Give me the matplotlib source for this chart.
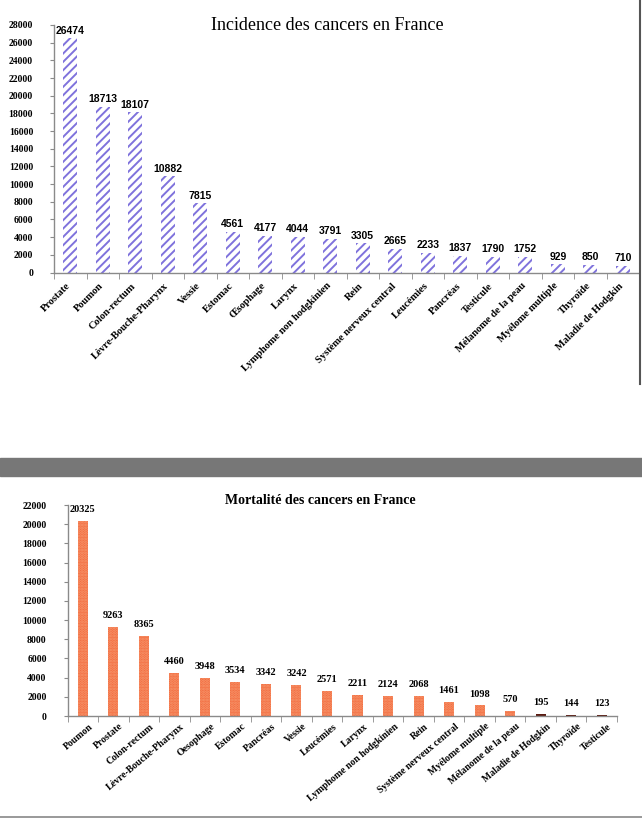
import matplotlib.pyplot as plt
import matplotlib.patches as mpatches
from matplotlib.lines import Line2D
import matplotlib.transforms as mtransforms

plt.rcParams["hatch.linewidth"] = 1.4

SERIF = "Liberation Serif"
SANS = "Liberation Sans"

inc_labels = ["Prostate", "Poumon", "Colon-rectum", "Lèvre-Bouche-Pharynx", "Vessie",
              "Estomac", "Œsophage", "Larynx", "Lymphome non hodgkinien", "Rein",
              "Système nerveux central", "Leucémies", "Pancréas", "Testicule",
              "Mélanome de la peau", "Myélome multiple", "Thyroïde", "Maladie de Hodgkin"]
inc_values = [26474, 18713, 18107, 10882, 7815, 4561, 4177, 4044, 3791, 3305,
              2665, 2233, 1837, 1790, 1752, 929, 850, 710]

mort_labels = ["Poumon", "Prostate", "Colon-rectum", "Lèvre-Bouche-Pharynx", "Oesophage",
               "Estomac", "Pancréas", "Vessie", "Leucémies", "Larynx",
               "Lymphome non hodgkinien", "Rein", "Système nerveux central",
               "Myélome multiple", "Mélanome de la peau", "Maladie de Hodgkin",
               "Thyroïde", "Testicule"]
mort_values = [20325, 9263, 8365, 4460, 3948, 3534, 3342, 3242, 2571, 2211,
               2124, 2068, 1461, 1098, 570, 195, 144, 123]

W, H = 642, 818
fig = plt.figure(figsize=(W / 100, H / 100), dpi=100)
fig.patch.set_facecolor("white")


def px_axes(left, top, right, bottom):
    return fig.add_axes([left / W, 1 - bottom / H, (right - left) / W, (bottom - top) / H])


def style_axes(ax, n, ymax, step, labels, rot, lab_size, dx, dy):
    ax.set_xlim(-0.5, n - 0.5)
    ax.set_ylim(0, ymax)
    for s in ["top", "right"]:
        ax.spines[s].set_visible(False)
    for s in ["left", "bottom"]:
        ax.spines[s].set_color("#8a8a8a")
        ax.spines[s].set_linewidth(1.0)
    ax.set_yticks(range(0, ymax + 1, step))
    ax.tick_params(axis="y", length=3, color="#8a8a8a", pad=12)
    for t in ax.get_yticklabels():
        t.set_fontfamily(SERIF)
        t.set_fontweight("bold")
        t.set_fontsize(7)
    ax.set_xticks(range(n))
    ax.set_xticks([i - 0.5 for i in range(n + 1)], minor=True)
    ax.tick_params(axis="x", which="major", length=0, pad=2)
    ax.tick_params(axis="x", which="minor", length=4, color="#8a8a8a")
    ax.set_xticklabels(labels, rotation=rot, ha="right", va="top",
                       rotation_mode="anchor", fontfamily=SERIF,
                       fontweight="bold", fontsize=lab_size)
    off = mtransforms.ScaledTranslation(dx / 100, dy / 100, fig.dpi_scale_trans)
    for t in ax.get_xticklabels():
        t.set_transform(t.get_transform() + off)


# --- Incidence ---
ax1 = px_axes(54, 25, 639, 272.5)
x1 = range(len(inc_values))
ax1.bar(x1, inc_values, width=0.43, color="white", edgecolor="#7f72dc",
        hatch="////", linewidth=0)
style_axes(ax1, len(inc_values), 28000, 2000, inc_labels, 45, 7.5, -4, -6)
for i, v in zip(x1, inc_values):
    ax1.annotate(str(v), (i, v), xytext=(0, 2), textcoords="offset points",
                 ha="center", va="bottom", fontfamily=SANS, fontweight="bold",
                 fontsize=7.5)
fig.text(327 / W, 1 - 26 / H, "Incidence des cancers en France", ha="center",
         va="center", fontfamily=SERIF, fontsize=13)

# --- Mortalite ---
ax2 = px_axes(67.5, 505, 617, 716)
x2 = range(len(mort_values))
ax2.bar(x2, mort_values, width=0.33, color="#f26a3e", linewidth=0)
ax2.bar(x2, mort_values, width=0.33, color="none", edgecolor="#f79a70",
        hatch="......", linewidth=0)
small = [v if v < 300 else 0 for v in mort_values]
ax2.bar(x2, small, width=0.33, color="#5a1a10", linewidth=0)
style_axes(ax2, len(mort_values), 22000, 2000, mort_labels, 40, 7.0, 6, -3)
for i, v in zip(x2, mort_values):
    ax2.annotate(str(v), (i, v), xytext=(0, 5), textcoords="offset points",
                 ha="center", va="bottom", fontfamily=SERIF, fontweight="bold",
                 fontsize=7.5)
fig.text(320 / W, 1 - 501 / H, "Mortalité des cancers en France", ha="center",
         va="center", fontfamily=SERIF, fontweight="bold", fontsize=10)

# --- page decorations ---
fig.add_artist(Line2D([639.5 / W, 639.5 / W], [1, 1 - 384 / H], color="#555555",
                      linewidth=1.5))
fig.add_artist(mpatches.Rectangle((0, 1 - 476 / H), 1, 18 / H, color="#777777",
                                  transform=fig.transFigure))
fig.add_artist(Line2D([0, 1], [1 - 816.5 / H, 1 - 816.5 / H], color="#888888",
                      linewidth=1.2))

fig.savefig("out.png", dpi=100, facecolor="white")
